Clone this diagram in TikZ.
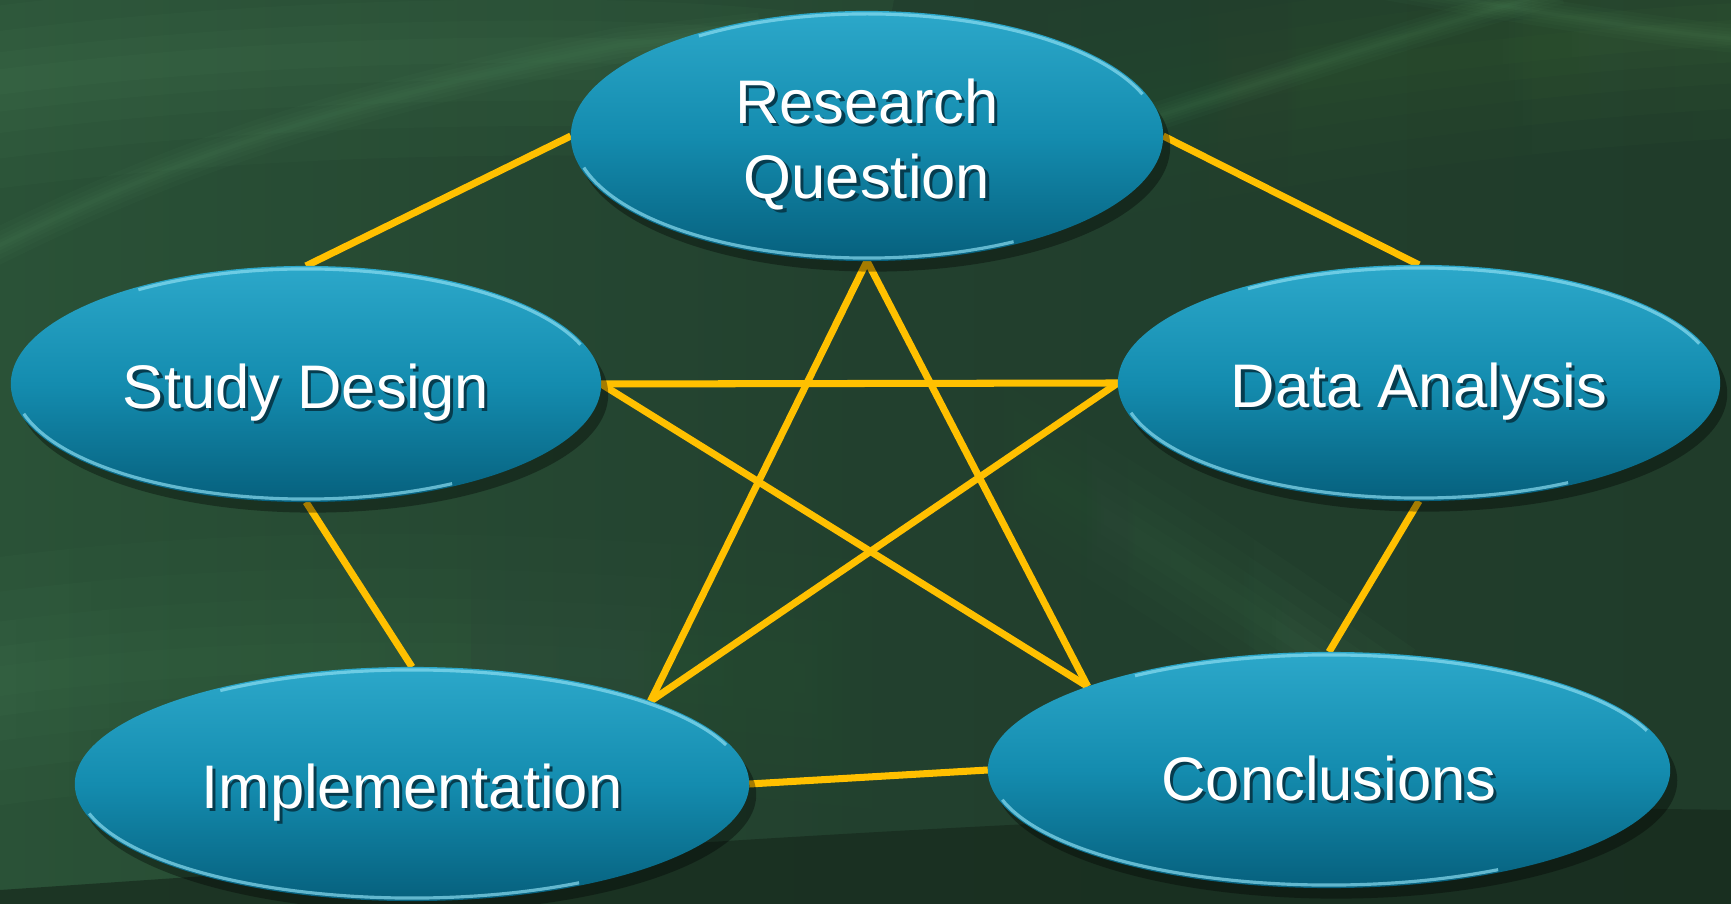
\documentclass[tikz,border=0pt]{standalone}
\usepackage{fontspec}
\setmainfont{Liberation Sans}
\usetikzlibrary{shapes.geometric,shadows,fadings}

\definecolor{bgleft}{HTML}{2A5237}
\definecolor{bgmid}{HTML}{22402E}
\definecolor{bgright}{HTML}{203C2A}
\definecolor{streak}{HTML}{5A9A68}
\definecolor{streakwarm}{HTML}{5E9C48}
\definecolor{bgdark}{HTML}{172A1D}
\definecolor{ovaltop}{RGB}{44,168,202}
\definecolor{ovalmid}{RGB}{20,140,175}
\definecolor{ovalbot}{RGB}{6,96,125}
\definecolor{rimcol}{HTML}{8ADCF0}
\definecolor{linkgold}{HTML}{FFC000}
\definecolor{txtshadow}{HTML}{063C4E}

\pgfdeclarelayer{bg}
\pgfdeclarelayer{links}
\pgfsetlayers{bg,links,main}

% white label, set a little low, with a small dark offset shadow
\newcommand\shtext[1]{\leavevmode\raisebox{-2.8pt}[\height][\depth]{%
  \rlap{\kern0.9pt\raisebox{-0.9pt}{\color{txtshadow}#1}}#1}}
% soft, blurred-looking band
\newcommand\softband[3]{%
  \foreach \w in {1,0.72,0.48,0.28,0.12}{%
    \draw[#1, line width=\w*#2, opacity=0.05] #3;}}
% light bevel rim along the upper-right and lower-left edges of an oval
\newcommand\ovalrim[3]{%
  \draw[rimline] ([shift={(20:#2 and #3)}]#1.center)
    arc[start angle=20,end angle=125,x radius=#2,y radius=#3];
  \draw[rimline] ([shift={(195:#2 and #3)}]#1.center)
    arc[start angle=195,end angle=300,x radius=#2,y radius=#3];}

\tikzset{
  oval/.style={ellipse, inner sep=0pt, outer sep=0pt, align=center,
    top color=ovaltop, bottom color=ovalbot, middle color=ovalmid,
    text=white, font=\fontsize{17.5}{21.3}\selectfont,
    drop shadow={shadow xshift=2pt, shadow yshift=-3pt, opacity=.35, fill=black}},
  rimline/.style={draw=rimcol, line width=0.9pt, opacity=.7},
  link/.style={draw=linkgold, line width=2pt}
}

\begin{document}
\begin{tikzpicture}[x=0.01cm,y=-0.01cm]
\useasboundingbox (0,0) rectangle (1731,904);

% background
\begin{pgfonlayer}{bg}
\begin{scope}
\clip (0,0) rectangle (1731,904);
\shade[left color=bgleft, right color=bgright, middle color=bgmid] (0,0) rectangle (1731,904);
% broad soft sweeps
\softband{streak}{60pt}{(-60,90) .. controls (150,60) and (350,50) .. (560,50) .. controls (700,52) and (800,60) .. (880,75)}
\softband{streakwarm, path fading=west}{60pt}{(950,140) .. controls (1300,70) and (1550,40) .. (1790,30)}
\softband{streak, path fading=east}{70pt}{(-60,690) .. controls (250,640) and (600,650) .. (1000,700)}
\softband{streak, path fading=west}{35pt}{(960,430) .. controls (1150,540) and (1250,610) .. (1380,700)}
% thin light streaks
\softband{streak}{10pt}{(-20,255) .. controls (150,170) and (300,110) .. (620,45) -- (760,30)}
\softband{streak}{8pt}{(1130,125) .. controls (1300,70) and (1420,30) .. (1560,-10)}
\softband{streak}{8pt}{(1380,-15) .. controls (1550,15) and (1680,35) .. (1750,40)}
\fill[bgdark, opacity=.7] (0,904) -- (0,890) .. controls (600,850) and (1200,800) .. (1731,810) -- (1731,904) -- cycle;
\end{scope}
\end{pgfonlayer}

% the five stages
\node[oval, minimum width=5.92cm, minimum height=2.50cm] (rq) at (867,136) {\shtext{Research}\\\shtext{Question}};
\node[oval, minimum width=5.90cm, minimum height=2.36cm] (sd) at (306,384) {\shtext{Study Design}};
\node[oval, minimum width=6.02cm, minimum height=2.36cm] (da) at (1419,383) {\shtext{Data Analysis}};
\node[oval, minimum width=6.74cm, minimum height=2.34cm] (im) at (412,784) {\shtext{Implementation}};
\node[oval, minimum width=6.82cm, minimum height=2.36cm] (co) at (1329,770) {\shtext{Conclusions}};

\ovalrim{rq}{2.93cm}{1.22cm}
\ovalrim{sd}{2.92cm}{1.15cm}
\ovalrim{da}{2.98cm}{1.15cm}
\ovalrim{im}{3.34cm}{1.14cm}
\ovalrim{co}{3.38cm}{1.15cm}

% connections: outer ring and inner star
\begin{pgfonlayer}{links}
\draw[link] (rq.west) -- (sd.north);
\draw[link] (rq.east) -- (da.north);
\draw[link] (sd.south) -- (im.north);
\draw[link] (da.south) -- (co.north);
\draw[link] (im.east) -- (co.west);
\draw[link] (rq.south) -- (im.north east);
\draw[link] (rq.south) -- (co.north west);
\draw[link] (sd.east) -- (da.west);
\draw[link] (sd.east) -- (co.north west);
\draw[link] (da.west) -- (im.north east);
\end{pgfonlayer}
\end{tikzpicture}
\end{document}
